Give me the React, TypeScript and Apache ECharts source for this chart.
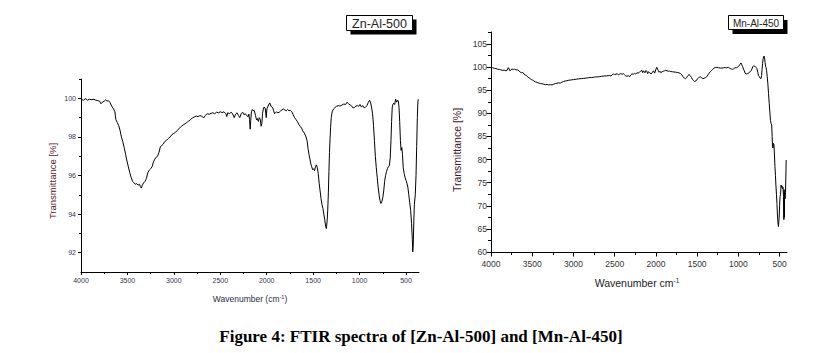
import React, { useEffect, useRef } from "react";
import * as echarts from "echarts";

// ---------- Data: Zn-Al-500 (left panel) ----------
const znWavenumber: number[] = [
  4000, 3975, 3950, 3930, 3910, 3890, 3860, 3840, 3820, 3800, 3785, 3770, 3750, 3735, 3720, 3705, 3690, 3670, 3650, 3635,
  3625, 3610, 3595, 3580, 3565, 3550, 3535, 3520, 3505, 3490, 3475, 3460, 3445, 3430, 3415, 3400, 3385, 3370, 3360, 3350,
  3340, 3325, 3310, 3295, 3280, 3265, 3250, 3235, 3220, 3205, 3190, 3175, 3160, 3145, 3130, 3115, 3100, 3080, 3060, 3040,
  3020, 3000, 2980, 2960, 2940, 2920, 2900, 2880, 2860, 2840, 2820, 2800, 2780, 2760, 2740, 2720, 2700, 2680, 2660, 2640,
  2620, 2600, 2580, 2560, 2540, 2520, 2500, 2480, 2460, 2440, 2430, 2420, 2400, 2385, 2370, 2350, 2335, 2320, 2305, 2290,
  2275, 2260, 2245, 2230, 2215, 2200, 2192, 2185, 2178, 2172, 2165, 2155, 2145, 2135, 2120, 2110, 2100, 2090, 2080, 2070,
  2060, 2052, 2045, 2035, 2025, 2015, 2005, 1998, 1985, 1975, 1965, 1955, 1945, 1935, 1925, 1915, 1905, 1895, 1880, 1865,
  1850, 1835, 1820, 1805, 1790, 1775, 1760, 1745, 1730, 1715, 1700, 1685, 1670, 1655, 1640, 1625, 1610, 1595, 1580, 1565,
  1555, 1545, 1535, 1525, 1515, 1505, 1495, 1485, 1475, 1465, 1455, 1445, 1435, 1425, 1415, 1405, 1395, 1385, 1375, 1365,
  1358, 1350, 1343, 1336, 1330, 1324, 1318, 1312, 1305, 1295, 1280, 1265, 1250, 1230, 1210, 1190, 1170, 1150, 1135, 1120,
  1100, 1085, 1070, 1055, 1040, 1025, 1010, 995, 980, 965, 950, 935, 920, 905, 892, 880, 870, 860, 850, 840,
  830, 820, 810, 800, 790, 780, 770, 760, 750, 740, 730, 720, 710, 700, 690, 680, 670, 662, 655, 648,
  640, 632, 622, 612, 600, 590, 582, 575, 568, 560, 553, 545, 538, 530, 520, 510, 500, 490, 480, 470,
  460, 450, 440, 432, 427, 422, 416, 410, 400, 392, 385, 378, 372, 368,
];
const znTransmittance: number[] = [
  99.95, 99.9, 99.98, 99.9, 99.95, 99.93, 99.95, 99.9, 99.88, 99.85, 99.72, 99.8, 99.85, 99.92, 99.85, 99.88, 99.8, 99.6, 99.45, 99.3,
  98.9, 98.75, 98.6, 98.35, 98.0, 97.75, 97.45, 97.1, 96.75, 96.45, 96.15, 95.9, 95.7, 95.62, 95.55, 95.58, 95.5, 95.55, 95.42, 95.35,
  95.5, 95.62, 95.7, 95.85, 96.15, 96.28, 96.35, 96.45, 96.7, 96.85, 96.95, 97.0, 97.2, 97.5, 97.55, 97.62, 97.75, 97.82, 97.92, 98.0,
  98.12, 98.18, 98.25, 98.35, 98.45, 98.55, 98.62, 98.68, 98.75, 98.82, 98.9, 98.98, 99.03, 99.08, 99.05, 99.1, 99.08, 98.98, 99.12, 99.2,
  99.17, 99.22, 99.25, 99.2, 99.28, 99.25, 99.3, 99.26, 99.3, 99.2, 99.05, 99.25, 99.2, 99.28, 99.22, 99.0, 99.18, 99.25, 99.12, 99.0,
  99.2, 99.28, 99.15, 99.2, 99.1, 99.05, 99.18, 98.9, 98.4, 98.85, 99.3, 99.42, 99.35, 99.38, 99.1, 98.88, 98.95, 98.8, 99.0, 98.92,
  98.55, 98.7, 99.2, 99.5, 99.55, 99.45, 99.0, 99.45, 99.6, 99.72, 99.75, 99.6, 99.55, 99.5, 99.35, 99.2, 99.25, 99.3, 99.25, 99.28,
  99.35, 99.4, 99.45, 99.4, 99.35, 99.42, 99.35, 99.38, 99.3, 99.15, 99.0, 98.9, 98.8, 98.65, 98.55, 98.45, 98.3, 98.2, 98.05, 97.8,
  97.4, 97.1, 96.85, 96.6, 96.45, 96.3, 96.35, 96.25, 96.45, 96.55, 96.4, 96.1, 95.6, 95.2, 94.8, 94.5, 94.3, 94.0, 93.7, 93.35,
  93.25, 93.6, 94.2, 95.1, 96.2, 97.2, 97.9, 98.5, 99.0, 99.3, 99.45, 99.52, 99.58, 99.62, 99.6, 99.65, 99.7, 99.68, 99.8, 99.72,
  99.65, 99.6, 99.5, 99.52, 99.6, 99.62, 99.58, 99.68, 99.55, 99.62, 99.5, 99.55, 99.62, 99.8, 99.9, 99.75, 99.5, 99.2, 98.6, 97.8,
  97.0, 96.4, 95.9, 95.4, 95.0, 94.7, 94.55, 94.65, 94.85, 95.2, 95.7, 96.0, 96.2, 96.35, 96.45, 96.5, 96.9, 97.8, 98.8, 99.55,
  99.7, 99.75, 99.68, 99.95, 99.8, 99.9, 99.85, 99.5, 98.8, 97.8, 97.3, 97.45, 97.1, 96.4, 96.1, 95.9, 95.75, 95.6, 95.4, 95.0,
  94.6, 94.2, 93.5, 92.7, 92.05, 92.4, 93.6, 94.5, 95.0, 96.0, 97.5, 99.0, 99.8, 99.95,
];

// ---------- Data: Mn-Al-450 (right panel) ----------
const mnWavenumber: number[] = [
  4000, 3980, 3960, 3940, 3920, 3900, 3880, 3860, 3840, 3820, 3805, 3790, 3780, 3770, 3760, 3745, 3730, 3715, 3700, 3680,
  3660, 3645, 3630, 3615, 3600, 3585, 3570, 3555, 3540, 3525, 3510, 3495, 3480, 3460, 3440, 3420, 3400, 3380, 3360, 3340,
  3320, 3300, 3280, 3260, 3240, 3220, 3200, 3180, 3160, 3140, 3120, 3100, 3080, 3060, 3040, 3020, 3000, 2980, 2960, 2940,
  2920, 2900, 2880, 2860, 2840, 2820, 2800, 2780, 2760, 2740, 2720, 2700, 2680, 2660, 2640, 2620, 2600, 2580, 2560, 2545,
  2530, 2515, 2500, 2485, 2470, 2455, 2440, 2425, 2410, 2395, 2380, 2365, 2350, 2335, 2320, 2305, 2290, 2275, 2260, 2245,
  2230, 2215, 2200, 2185, 2170, 2160, 2150, 2140, 2130, 2120, 2110, 2100, 2090, 2075, 2060, 2045, 2030, 2015, 2000, 1990,
  1980, 1970, 1960, 1950, 1940, 1925, 1910, 1895, 1880, 1865, 1850, 1835, 1820, 1800, 1780, 1760, 1740, 1720, 1700, 1685,
  1670, 1655, 1640, 1625, 1610, 1598, 1585, 1570, 1558, 1545, 1530, 1515, 1500, 1488, 1475, 1460, 1445, 1430, 1415, 1400,
  1385, 1370, 1355, 1340, 1325, 1310, 1295, 1280, 1260, 1240, 1220, 1200, 1180, 1160, 1140, 1120, 1100, 1085, 1070, 1055,
  1040, 1025, 1010, 995, 980, 968, 958, 948, 938, 928, 918, 905, 892, 880, 868, 856, 845, 835, 825, 815,
  805, 795, 785, 775, 765, 755, 745, 735, 725, 718, 712, 706, 700, 694, 688, 682, 676, 670, 664, 658,
  650, 642, 634, 626, 618, 610, 603, 596, 590, 586, 580, 574, 568, 562, 556, 550, 544, 538, 532, 526,
  520, 514, 510, 506, 500, 494, 488, 482, 476, 470, 464, 458, 452, 448, 445, 442, 439, 434, 428, 420,
];
const mnTransmittance: number[] = [
  99.9, 99.85, 99.75, 99.7, 99.55, 99.5, 99.4, 99.3, 99.35, 99.2, 99.3, 99.9, 99.6, 99.2, 99.4, 99.6, 99.5, 99.55, 99.45, 99.4,
  99.2, 98.9, 98.8, 98.85, 98.5, 98.3, 98.2, 97.9, 97.7, 97.5, 97.3, 97.2, 97.0, 96.8, 96.7, 96.55, 96.45, 96.4, 96.3, 96.2,
  96.25, 96.15, 96.2, 96.15, 96.3, 96.45, 96.5, 96.6, 96.55, 96.75, 96.9, 97.0, 97.05, 97.15, 97.2, 97.25, 97.3, 97.35, 97.4, 97.45,
  97.5, 97.52, 97.55, 97.6, 97.65, 97.7, 97.75, 97.75, 97.8, 97.85, 97.9, 97.9, 97.95, 98.0, 98.05, 98.1, 98.1, 98.15, 98.2, 98.05,
  98.35, 98.5, 98.4, 98.45, 98.6, 98.3, 98.5, 98.6, 98.45, 98.6, 98.35, 98.1, 98.0, 98.2, 97.9, 98.3, 98.55, 98.45, 98.65, 98.5,
  98.8, 98.7, 98.9, 99.1, 99.3, 98.8, 99.2, 98.9, 98.8, 99.3, 99.1, 98.6, 99.0, 98.8, 98.5, 98.8, 99.2, 98.7, 99.5, 99.95,
  99.6, 99.2, 98.9, 99.1, 98.8, 99.0, 99.1, 99.2, 99.3, 99.2, 99.1, 99.15, 99.05, 99.0, 98.95, 98.9, 98.85, 98.75, 98.6, 98.3,
  97.9, 97.6, 97.5, 97.8, 98.2, 98.4, 98.2, 97.8, 97.4, 97.1, 96.9, 97.0, 97.4, 97.6, 97.8, 97.9, 97.7, 97.5, 97.6, 97.7,
  97.9, 98.3, 98.7, 99.0, 99.3, 99.5, 99.8, 99.9, 99.95, 99.85, 99.8, 99.8, 99.85, 99.9, 99.85, 99.95, 99.7, 99.6, 99.5, 99.65,
  99.9, 99.85, 100.0, 100.2, 100.6, 100.9, 100.5, 100.1, 99.6, 99.2, 98.7, 98.5, 98.6, 98.6, 98.9, 99.0, 99.2, 99.6, 100.1, 100.3,
  100.2, 100.15, 99.9, 99.7, 98.9, 98.2, 97.9, 97.6, 97.5, 98.2, 99.5, 100.8, 101.8, 102.2, 102.4, 102.0, 101.0, 100.2, 99.9, 99.3,
  98.0, 96.4, 94.3, 92.2, 90.3, 88.4, 87.8, 87.5, 85.0, 82.8, 82.5, 83.5, 83.2, 81.0, 78.5, 76.5, 74.3, 72.5, 70.5, 68.0,
  66.5, 65.5, 65.5, 67.2, 70.0, 72.0, 72.5, 74.5, 74.0, 74.3, 73.7, 74.0, 72.0, 67.0, 73.5, 67.5, 73.0, 71.5, 72.8, 79.9,
];

// ---------- Tick labels ----------
const wavenumberTicks: number[] = [4000, 3500, 3000, 2500, 2000, 1500, 1000, 500];
const wavenumberMinorTicks: number[] = [3750, 3250, 2750, 2250, 1750, 1250, 750];
const znYTicks: number[] = [92, 94, 96, 98, 100];
const znYMinorTicks: number[] = [93, 95, 97, 99, 101];
const mnYTicks: number[] = [60, 65, 70, 75, 80, 85, 90, 95, 100, 105];
const mnYMinorTicks: number[] = [62.5, 67.5, 72.5, 77.5, 82.5, 87.5, 92.5, 97.5, 102.5, 107.5];

const FONT = "'Liberation Sans', Arial, sans-serif";

function pairs(xs: number[], ys: number[]): number[][] {
  return xs.map((x, i) => [x, ys[i]]);
}

export default function App() {
  const ref = useRef<HTMLDivElement>(null);

  useEffect(() => {
    if (!ref.current) return;
    const chart = echarts.init(ref.current, undefined, { renderer: "svg" });

    const xMain = (grid: number, min: number, tickLen: number, fontSize: number, color: string, margin: number) => ({
      type: "value",
      gridIndex: grid,
      position: "bottom",
      inverse: true,
      min,
      max: 4000,
      axisLine: { show: true, onZero: false, lineStyle: { color: "#000", width: 1 } },
      axisTick: { show: true, length: tickLen, customValues: wavenumberTicks, lineStyle: { color: "#000" } },
      axisLabel: {
        show: true,
        customValues: wavenumberTicks,
        fontSize,
        fontFamily: FONT,
        color,
        margin,
        formatter: (v: number) => String(v),
      },
      splitLine: { show: false },
    });
    const xMinor = (grid: number, min: number, tickLen: number) => ({
      type: "value",
      gridIndex: grid,
      position: "bottom",
      inverse: true,
      min,
      max: 4000,
      axisLine: { show: false, onZero: false },
      axisTick: { show: true, length: tickLen, customValues: wavenumberMinorTicks, lineStyle: { color: "#000" } },
      axisLabel: { show: false },
      splitLine: { show: false },
    });
    const yMain = (grid: number, min: number, max: number, ticks: number[], tickLen: number, fontSize: number, color: string, margin: number) => ({
      type: "value",
      gridIndex: grid,
      position: "left",
      min,
      max,
      axisLine: { show: true, onZero: false, lineStyle: { color: "#000", width: 1 } },
      axisTick: { show: true, length: tickLen, customValues: ticks, lineStyle: { color: "#000" } },
      axisLabel: {
        show: true,
        customValues: ticks,
        fontSize,
        fontFamily: FONT,
        color,
        margin,
        formatter: (v: number) => String(v),
      },
      splitLine: { show: false },
    });
    const yMinor = (grid: number, min: number, max: number, ticks: number[], tickLen: number) => ({
      type: "value",
      gridIndex: grid,
      position: "left",
      min,
      max,
      axisLine: { show: false, onZero: false },
      axisTick: { show: true, length: tickLen, customValues: ticks, lineStyle: { color: "#000" } },
      axisLabel: { show: false },
      splitLine: { show: false },
    });

    const leftLabelColor = "#33334d";
    const rightLabelColor = "#333333";

    chart.setOption({
      animation: false,
      backgroundColor: "#ffffff",
      grid: [
        { left: 81, top: 79, width: 338, height: 193, containLabel: false },
        { left: 491, top: 32, width: 296, height: 220, containLabel: false },
      ],
      xAxis: [
        xMain(0, 360, 3, 7, leftLabelColor, 5),
        xMinor(0, 360, 2),
        xMain(1, 410, 4.5, 8.5, rightLabelColor, 7),
        xMinor(1, 410, 3),
      ],
      yAxis: [
        yMain(0, 91, 101, znYTicks, 3, 7, leftLabelColor, 5),
        yMinor(0, 91, 101, znYMinorTicks, 2),
        yMain(1, 60, 107.6, mnYTicks, 4.5, 8.5, rightLabelColor, 4),
        yMinor(1, 60, 107.6, mnYMinorTicks, 3),
      ],
      series: [
        {
          type: "line",
          name: "Zn-Al-500",
          xAxisIndex: 0,
          yAxisIndex: 0,
          data: pairs(znWavenumber, znTransmittance),
          showSymbol: false,
          symbol: "none",
          lineStyle: { color: "#000", width: 1 },
          silent: true,
        },
        {
          type: "line",
          name: "Mn-Al-450",
          xAxisIndex: 2,
          yAxisIndex: 2,
          data: pairs(mnWavenumber, mnTransmittance),
          showSymbol: false,
          symbol: "none",
          lineStyle: { color: "#000", width: 1 },
          silent: true,
        },
      ],
      graphic: [
        // Zn-Al-500 label box
        { type: "rect", shape: { x: 350.5, y: 19.5, width: 66, height: 15 }, style: { fill: "#000" }, silent: true },
        { type: "rect", shape: { x: 346.5, y: 15.5, width: 66, height: 15 }, style: { fill: "#fff", stroke: "#000", lineWidth: 1 }, silent: true },
        {
          type: "text",
          x: 379.5,
          y: 23.5,
          style: { text: "Zn-Al-500", fontSize: 12.5, fontFamily: FONT, fill: "#222", align: "center", verticalAlign: "middle" },
          silent: true,
        },
        // Mn-Al-450 label box
        { type: "rect", shape: { x: 732.5, y: 20, width: 55, height: 14 }, style: { fill: "#000" }, silent: true },
        { type: "rect", shape: { x: 728.5, y: 15.5, width: 55, height: 14 }, style: { fill: "#fff", stroke: "#000", lineWidth: 1 }, silent: true },
        {
          type: "text",
          x: 756,
          y: 23,
          style: { text: "Mn-Al-450", fontSize: 10, fontFamily: FONT, fill: "#222", align: "center", verticalAlign: "middle" },
          silent: true,
        },
        // Left y-axis title
        {
          type: "text",
          x: 52.5,
          y: 181,
          rotation: Math.PI / 2,
          style: { text: "Transmittance [%]", fontSize: 9.5, fontFamily: FONT, fill: "#5a1426", align: "center", verticalAlign: "middle" },
          silent: true,
        },
        // Left x-axis title
        {
          type: "text",
          x: 250,
          y: 299,
          style: {
            text: "{a|Wavenumber (cm}{s|-1}{a|)}",
            align: "center",
            verticalAlign: "middle",
            rich: {
              a: { fontSize: 8.5, fontFamily: FONT, fill: "#2a2a44", color: "#2a2a44" },
              s: { fontSize: 5.5, fontFamily: FONT, fill: "#2a2a44", color: "#2a2a44", verticalAlign: "top", padding: [0, 0, 5, 0] },
            },
          },
          silent: true,
        },
        // Right y-axis title
        {
          type: "text",
          x: 456.5,
          y: 150,
          rotation: Math.PI / 2,
          style: { text: "Transmittance [%]", fontSize: 10.5, fontFamily: FONT, fill: "#3d1a26", align: "center", verticalAlign: "middle" },
          silent: true,
        },
        // Right x-axis title
        {
          type: "text",
          x: 637,
          y: 283,
          style: {
            text: "{a|Wavenumber cm}{s|-1}",
            align: "center",
            verticalAlign: "middle",
            rich: {
              a: { fontSize: 10.5, fontFamily: FONT, fill: "#222", color: "#222" },
              s: { fontSize: 6.5, fontFamily: FONT, fill: "#222", color: "#222", verticalAlign: "top", padding: [0, 0, 6, 0] },
            },
          },
          silent: true,
        },
        // Figure caption
        {
          type: "text",
          x: 421,
          y: 336,
          style: {
            text: "Figure 4: FTIR spectra of [Zn-Al-500] and [Mn-Al-450]",
            fontSize: 17,
            fontWeight: "bold",
            fontFamily: "'Liberation Serif', 'Times New Roman', serif",
            fill: "#000",
            align: "center",
            verticalAlign: "middle",
          },
          silent: true,
        },
      ],
    });

    return () => {
      chart.dispose();
    };
  }, []);

  return (
    <div
      ref={ref}
      style={{ position: "fixed", left: 0, top: 0, width: 826, height: 353, background: "#fff" }}
    />
  );
}
